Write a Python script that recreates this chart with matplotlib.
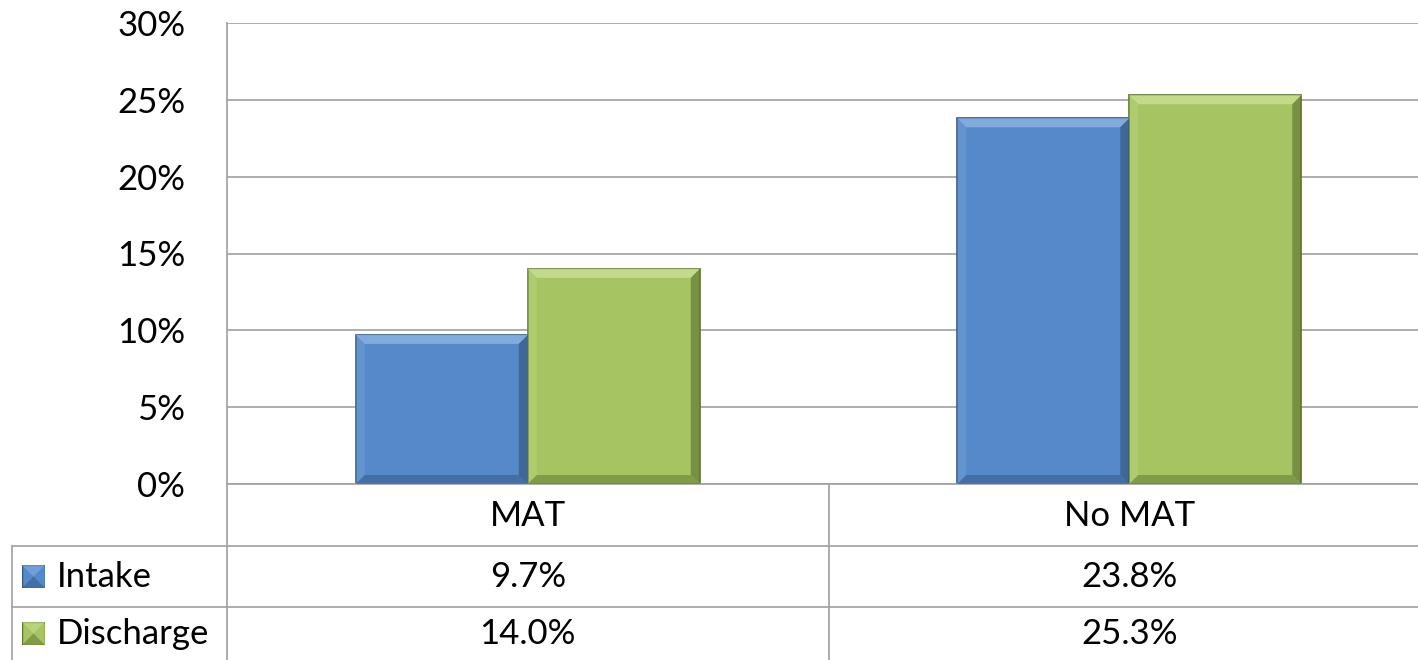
import matplotlib
matplotlib.use("Agg")
import matplotlib.pyplot as plt
from matplotlib.patches import Polygon
from matplotlib.lines import Line2D
import numpy as np

categories = ["MAT", "No MAT"]
series_names = ["Intake", "Discharge"]
intake = [9.7, 23.8]
discharge = [14.0, 25.3]
yticks = [0, 5, 10, 15, 20, 25, 30]

colors = ["#5589CA", "#A6C462"]
dark = ["#34577F", "#5E7530"]
light = ["#86AEE0", "#C6DD8E"]

plt.rcParams['font.family'] = ['Lato', 'DejaVu Sans']
FS = 25

W, H = 1418, 660
fig = plt.figure(figsize=(W / 100, H / 100), dpi=100)
x0, x1 = 227 / W, 1430 / W
ybot, ytop = (H - 484) / H, (H - 23) / H
ax = fig.add_axes([x0, ybot, x1 - x0, ytop - ybot])

x = np.arange(len(categories))
bw = 0.286
bars1 = ax.bar(x - bw / 2, intake, bw, color=colors[0], edgecolor=dark[0], linewidth=1.2, zorder=3)
bars2 = ax.bar(x + bw / 2, discharge, bw, color=colors[1], edgecolor=dark[1], linewidth=1.2, zorder=3)

ax.set_xlim(-0.5, len(categories) - 0.5)
ax.set_ylim(0, 30)
ax.set_yticks(yticks)
ax.set_yticklabels([f"{t}%" for t in yticks], fontsize=FS)
ax.tick_params(axis='y', length=0, pad=30)
ax.set_xticks([])
ax.grid(axis='y', color='#A0A0A0', linewidth=1.2, zorder=0)
for s in ['top', 'right', 'bottom', 'left']:
    ax.spines[s].set_visible(False)

fig.canvas.draw()

# bevel effect drawn from each bar's own geometry
def bevel(bar, li, dk):
    bb = bar.get_window_extent()
    l, b, r, t = bb.x0, bb.y0, bb.x1, bb.y1
    d = 9
    inv = fig.transFigure.inverted()
    def poly(pts, c, a):
        pts = inv.transform(np.array(pts))
        fig.patches.append(Polygon(pts, closed=True, facecolor=c, edgecolor='none',
                                   alpha=a, transform=fig.transFigure, zorder=4))
    poly([(l, t), (r, t), (r - d, t - d), (l + d, t - d)], li, 0.9)
    poly([(l, b), (l, t), (l + d, t - d), (l + d, b + d)], li, 0.3)
    poly([(r, b), (r, t), (r - d, t - d), (r - d, b + d)], dk, 0.65)
    poly([(l, b), (r, b), (r - d, b + d), (l + d, b + d)], dk, 0.5)

for bar in bars1:
    bevel(bar, light[0], dark[0])
for bar in bars2:
    bevel(bar, light[1], dark[1])

# data table below the axes
gc = '#A0A0A0'
def fx(px):
    return px / W
def fy(py):
    return 1 - py / H
def hline(xa, xb, y):
    fig.add_artist(Line2D([fx(xa), fx(xb)], [fy(y), fy(y)], color=gc, lw=1.2))
def vline(xp, ya, yb):
    fig.add_artist(Line2D([fx(xp), fx(xp)], [fy(ya), fy(yb)], color=gc, lw=1.2))

disp = ax.transData
col_px = [disp.transform((xi, 0))[0] for xi in x]
mid_px = disp.transform((0.5, 0))[0]

hline(227, W, 484)
hline(12, W, 546)
hline(12, W, 607)
vline(227, 23, H)
vline(mid_px, 484, H)
vline(12, 546, H)

for cx, cat in zip(col_px, categories):
    fig.text(fx(cx), fy(516), cat, ha='center', va='center', fontsize=FS)
rows = [intake, discharge]
row_y = [577, 634]
for ri, (vals, ry) in enumerate(zip(rows, row_y)):
    for cx, v in zip(col_px, vals):
        fig.text(fx(cx), fy(ry), f"{v:.1f}%", ha='center', va='center', fontsize=FS)
    # legend key
    ax_key = fig.add_axes([fx(22), fy(ry + 11), fx(23), 23 / H])
    ax_key.set_axis_off()
    ax_key.add_patch(plt.Rectangle((0, 0), 1, 1, facecolor=colors[ri], edgecolor=dark[ri], lw=1))
    ax_key.add_patch(Polygon([(0, 1), (1, 1), (0.5, 0.5)], facecolor=light[ri], alpha=0.6, edgecolor='none'))
    ax_key.add_patch(Polygon([(0, 0), (1, 0), (0.5, 0.5)], facecolor=dark[ri], alpha=0.5, edgecolor='none'))
    ax_key.set_xlim(0, 1); ax_key.set_ylim(0, 1)
    fig.text(fx(57), fy(ry), series_names[ri], ha='left', va='center', fontsize=FS)

fig.savefig("out.png", dpi=100)
